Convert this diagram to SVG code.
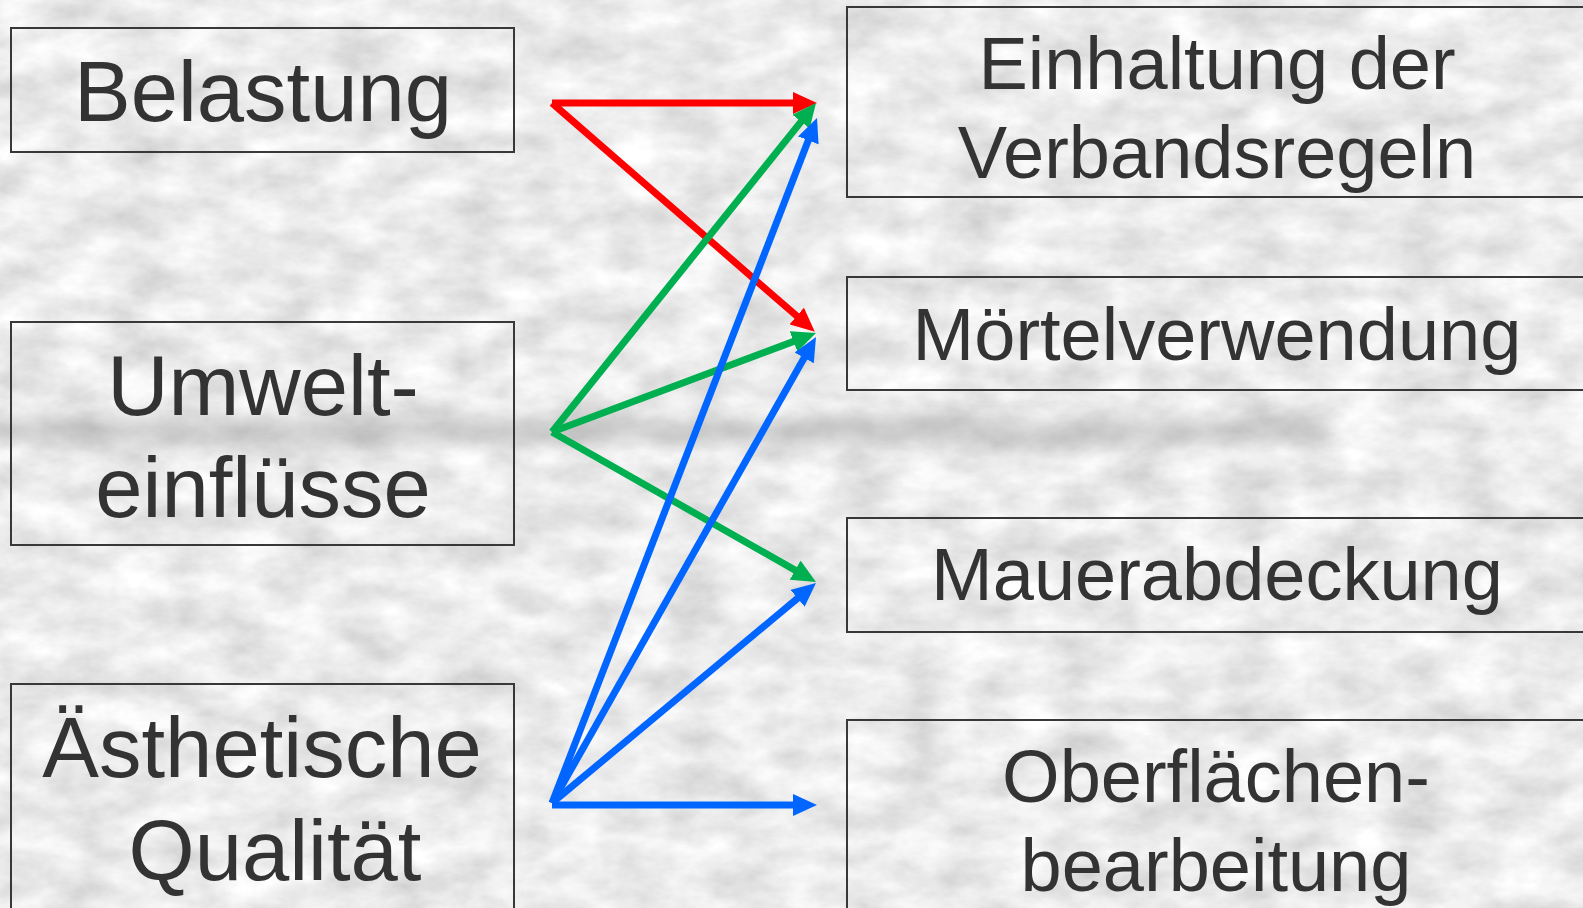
<svg xmlns="http://www.w3.org/2000/svg" width="1583" height="908" viewBox="0 0 1583 908">
<style>
.box{fill:none;stroke:#383838;stroke-width:2}
.lt{font-family:"Liberation Sans",Arial,sans-serif;font-size:85px;fill:#333333;text-anchor:middle}
.rt{font-family:"Liberation Sans",Arial,sans-serif;font-size:74px;fill:#333333;text-anchor:middle}
.red{stroke:#FF0000;stroke-width:7;fill:none;marker-end:url(#hr)}
.grn{stroke:#00B050;stroke-width:7;fill:none;marker-end:url(#hg)}
.blu{stroke:#0066FF;stroke-width:7;fill:none;marker-end:url(#hb)}
</style>
<defs>
<filter id="stone" x="0" y="0" width="100%" height="100%">
<feTurbulence type="fractalNoise" baseFrequency="0.018 0.03" numOctaves="5" seed="11"/>
<feColorMatrix type="matrix" values="0.5 0 0 0 0.585 0.5 0 0 0 0.585 0.5 0 0 0 0.585 0 0 0 0 1"/>
</filter>
<filter id="soft" x="-10%" y="-100%" width="120%" height="300%">
<feGaussianBlur stdDeviation="14 8"/>
</filter>
<marker id="hr" markerUnits="userSpaceOnUse" markerWidth="24" markerHeight="22" refX="11" refY="11" orient="auto"><path d="M0,0 L24,11 L0,22 z" fill="#FF0000"/></marker>
<marker id="hg" markerUnits="userSpaceOnUse" markerWidth="24" markerHeight="22" refX="11" refY="11" orient="auto"><path d="M0,0 L24,11 L0,22 z" fill="#00B050"/></marker>
<marker id="hb" markerUnits="userSpaceOnUse" markerWidth="24" markerHeight="22" refX="11" refY="11" orient="auto"><path d="M0,0 L24,11 L0,22 z" fill="#0066FF"/></marker>
</defs>
<rect x="0" y="0" width="1583" height="908" fill="#d6d6d6"/>
<rect x="0" y="0" width="1583" height="908" filter="url(#stone)"/>
<rect x="-20" y="418" width="1340" height="26" fill="#8a8a8a" opacity="0.35" filter="url(#soft)"/>

<g id="belastung">
<rect class="box" x="11" y="28" width="503" height="124"/>
<text class="lt" x="263" y="121">Belastung</text>
</g>
<g id="umwelteinfluesse">
<rect class="box" x="11" y="322" width="503" height="223"/>
<text class="lt" x="263" y="415">Umwelt-</text>
<text class="lt" x="263" y="517">einflüsse</text>
</g>
<g id="aesthetische-qualitaet">
<rect class="box" x="11" y="684" width="503" height="240"/>
<text class="lt" x="262" y="777">Ästhetische</text>
<text class="lt" x="275" y="880">Qualität</text>
</g>

<g id="verbandsregeln">
<rect class="box" x="847" y="7" width="760" height="190"/>
<text class="rt" x="1217" y="89">Einhaltung der</text>
<text class="rt" x="1217" y="178">Verbandsregeln</text>
</g>
<g id="moertelverwendung">
<rect class="box" x="847" y="277" width="760" height="113"/>
<text class="rt" x="1217" y="360">Mörtelverwendung</text>
</g>
<g id="mauerabdeckung">
<rect class="box" x="847" y="518" width="760" height="114"/>
<text class="rt" x="1217" y="600">Mauerabdeckung</text>
</g>
<g id="oberflaechenbearbeitung">
<rect class="box" x="847" y="720" width="760" height="220"/>
<text class="rt" x="1216" y="802">Oberflächen-</text>
<text class="rt" x="1216" y="891">bearbeitung</text>
</g>

<g id="connectors">
<line class="red" x1="552" y1="103" x2="804" y2="103"/>
<line class="red" x1="552" y1="103" x2="805" y2="323.2"/>
<line class="grn" x1="552" y1="432" x2="807.9" y2="113.1"/>
<line class="grn" x1="552" y1="432" x2="803.8" y2="337.6"/>
<line class="grn" x1="552" y1="432" x2="804.7" y2="575.6"/>
<line class="blu" x1="552" y1="803" x2="812.3" y2="130.1"/>
<line class="blu" x1="552" y1="803" x2="809.6" y2="348.3"/>
<line class="blu" x1="552" y1="803" x2="806" y2="591.3"/>
<line class="blu" x1="552" y1="805" x2="804" y2="805"/>
</g>
</svg>
